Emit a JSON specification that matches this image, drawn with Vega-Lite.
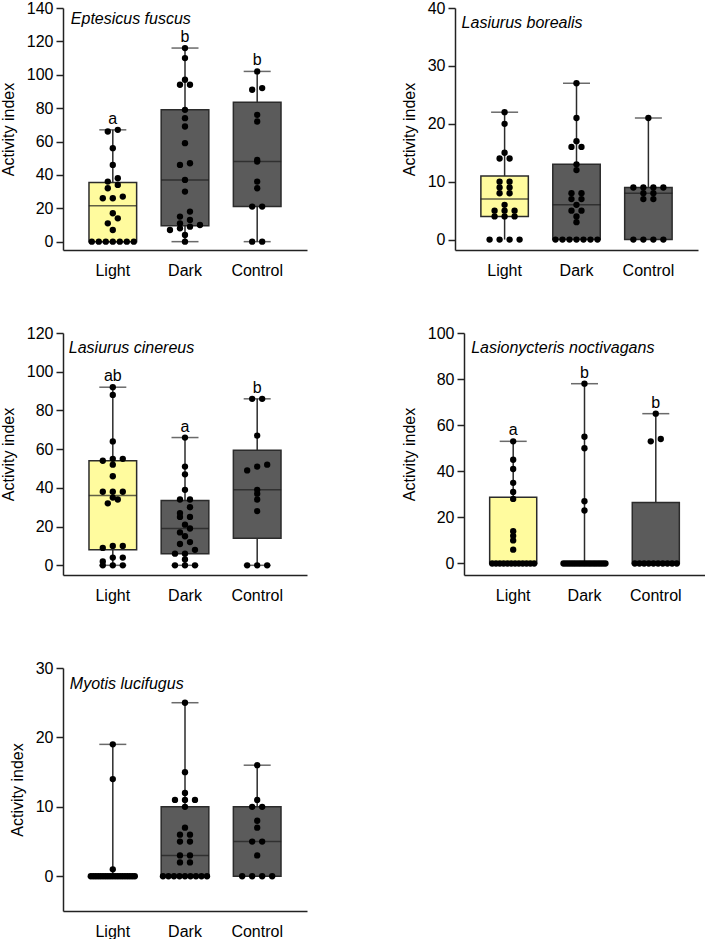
{
  "$schema": "https://vega.github.io/schema/vega-lite/v6.json",
  "padding": {"left": 0, "top": 0, "right": 0, "bottom": 0},
  "background": "white",
  "datasets": {
    "boxes": [
      {"sp": "Eptesicus fuscus", "grp": "Light", "q1": 0, "med": 21.5, "q3": 35.5, "min": 0, "max": 67, "letter": "a"},
      {"sp": "Eptesicus fuscus", "grp": "Dark", "q1": 9.5, "med": 37, "q3": 79, "min": 0, "max": 116, "letter": "b"},
      {"sp": "Eptesicus fuscus", "grp": "Control", "q1": 21, "med": 48, "q3": 83.5, "min": 0, "max": 102, "letter": "b"},
      {"sp": "Lasiurus borealis", "grp": "Light", "q1": 4, "med": 7, "q3": 11, "min": 0, "max": 22, "letter": ""},
      {"sp": "Lasiurus borealis", "grp": "Dark", "q1": 0, "med": 6, "q3": 13, "min": 0, "max": 27, "letter": ""},
      {"sp": "Lasiurus borealis", "grp": "Control", "q1": 0, "med": 8, "q3": 9, "min": 0, "max": 21, "letter": ""},
      {"sp": "Lasiurus cinereus", "grp": "Light", "q1": 8, "med": 36, "q3": 54, "min": 0, "max": 92, "letter": "ab"},
      {"sp": "Lasiurus cinereus", "grp": "Dark", "q1": 6, "med": 19, "q3": 33.5, "min": 0, "max": 66, "letter": "a"},
      {"sp": "Lasiurus cinereus", "grp": "Control", "q1": 14, "med": 39, "q3": 59.5, "min": 0, "max": 86, "letter": "b"},
      {"sp": "Lasionycteris noctivagans", "grp": "Light", "q1": 0, "med": 0, "q3": 28.7, "min": 0, "max": 53, "letter": "a"},
      {"sp": "Lasionycteris noctivagans", "grp": "Dark", "q1": 0, "med": 0, "q3": 0, "min": 0, "max": 78, "letter": "b"},
      {"sp": "Lasionycteris noctivagans", "grp": "Control", "q1": 0, "med": 0, "q3": 26.5, "min": 0, "max": 65, "letter": "b"},
      {"sp": "Myotis lucifugus", "grp": "Light", "q1": 0, "med": 0, "q3": 0, "min": 0, "max": 19, "letter": ""},
      {"sp": "Myotis lucifugus", "grp": "Dark", "q1": 0, "med": 3, "q3": 10, "min": 0, "max": 25, "letter": ""},
      {"sp": "Myotis lucifugus", "grp": "Control", "q1": 0, "med": 5, "q3": 10, "min": 0, "max": 16, "letter": ""}
    ],
    "points": [
      {"sp": "Eptesicus fuscus", "grp": "Light", "v": 67},
      {"sp": "Eptesicus fuscus", "grp": "Light", "v": 66},
      {"sp": "Eptesicus fuscus", "grp": "Light", "v": 56},
      {"sp": "Eptesicus fuscus", "grp": "Light", "v": 46},
      {"sp": "Eptesicus fuscus", "grp": "Light", "v": 38},
      {"sp": "Eptesicus fuscus", "grp": "Light", "v": 36},
      {"sp": "Eptesicus fuscus", "grp": "Light", "v": 34},
      {"sp": "Eptesicus fuscus", "grp": "Light", "v": 32},
      {"sp": "Eptesicus fuscus", "grp": "Light", "v": 27},
      {"sp": "Eptesicus fuscus", "grp": "Light", "v": 26},
      {"sp": "Eptesicus fuscus", "grp": "Light", "v": 26},
      {"sp": "Eptesicus fuscus", "grp": "Light", "v": 17},
      {"sp": "Eptesicus fuscus", "grp": "Light", "v": 14},
      {"sp": "Eptesicus fuscus", "grp": "Light", "v": 11},
      {"sp": "Eptesicus fuscus", "grp": "Light", "v": 7},
      {"sp": "Eptesicus fuscus", "grp": "Light", "v": 0},
      {"sp": "Eptesicus fuscus", "grp": "Light", "v": 0},
      {"sp": "Eptesicus fuscus", "grp": "Light", "v": 0},
      {"sp": "Eptesicus fuscus", "grp": "Light", "v": 0},
      {"sp": "Eptesicus fuscus", "grp": "Light", "v": 0},
      {"sp": "Eptesicus fuscus", "grp": "Light", "v": 0},
      {"sp": "Eptesicus fuscus", "grp": "Light", "v": 0},
      {"sp": "Eptesicus fuscus", "grp": "Dark", "v": 116},
      {"sp": "Eptesicus fuscus", "grp": "Dark", "v": 110},
      {"sp": "Eptesicus fuscus", "grp": "Dark", "v": 97},
      {"sp": "Eptesicus fuscus", "grp": "Dark", "v": 94},
      {"sp": "Eptesicus fuscus", "grp": "Dark", "v": 94},
      {"sp": "Eptesicus fuscus", "grp": "Dark", "v": 79},
      {"sp": "Eptesicus fuscus", "grp": "Dark", "v": 74},
      {"sp": "Eptesicus fuscus", "grp": "Dark", "v": 69},
      {"sp": "Eptesicus fuscus", "grp": "Dark", "v": 59},
      {"sp": "Eptesicus fuscus", "grp": "Dark", "v": 47},
      {"sp": "Eptesicus fuscus", "grp": "Dark", "v": 46},
      {"sp": "Eptesicus fuscus", "grp": "Dark", "v": 37},
      {"sp": "Eptesicus fuscus", "grp": "Dark", "v": 30},
      {"sp": "Eptesicus fuscus", "grp": "Dark", "v": 18},
      {"sp": "Eptesicus fuscus", "grp": "Dark", "v": 15},
      {"sp": "Eptesicus fuscus", "grp": "Dark", "v": 13},
      {"sp": "Eptesicus fuscus", "grp": "Dark", "v": 11},
      {"sp": "Eptesicus fuscus", "grp": "Dark", "v": 10},
      {"sp": "Eptesicus fuscus", "grp": "Dark", "v": 9},
      {"sp": "Eptesicus fuscus", "grp": "Dark", "v": 8},
      {"sp": "Eptesicus fuscus", "grp": "Dark", "v": 7},
      {"sp": "Eptesicus fuscus", "grp": "Dark", "v": 4},
      {"sp": "Eptesicus fuscus", "grp": "Dark", "v": 0},
      {"sp": "Eptesicus fuscus", "grp": "Control", "v": 102},
      {"sp": "Eptesicus fuscus", "grp": "Control", "v": 92},
      {"sp": "Eptesicus fuscus", "grp": "Control", "v": 91},
      {"sp": "Eptesicus fuscus", "grp": "Control", "v": 76},
      {"sp": "Eptesicus fuscus", "grp": "Control", "v": 72},
      {"sp": "Eptesicus fuscus", "grp": "Control", "v": 49},
      {"sp": "Eptesicus fuscus", "grp": "Control", "v": 48},
      {"sp": "Eptesicus fuscus", "grp": "Control", "v": 36},
      {"sp": "Eptesicus fuscus", "grp": "Control", "v": 32},
      {"sp": "Eptesicus fuscus", "grp": "Control", "v": 21},
      {"sp": "Eptesicus fuscus", "grp": "Control", "v": 21},
      {"sp": "Eptesicus fuscus", "grp": "Control", "v": 0},
      {"sp": "Eptesicus fuscus", "grp": "Control", "v": 0},
      {"sp": "Lasiurus borealis", "grp": "Light", "v": 22},
      {"sp": "Lasiurus borealis", "grp": "Light", "v": 20},
      {"sp": "Lasiurus borealis", "grp": "Light", "v": 15},
      {"sp": "Lasiurus borealis", "grp": "Light", "v": 14},
      {"sp": "Lasiurus borealis", "grp": "Light", "v": 14},
      {"sp": "Lasiurus borealis", "grp": "Light", "v": 10},
      {"sp": "Lasiurus borealis", "grp": "Light", "v": 10},
      {"sp": "Lasiurus borealis", "grp": "Light", "v": 9},
      {"sp": "Lasiurus borealis", "grp": "Light", "v": 9},
      {"sp": "Lasiurus borealis", "grp": "Light", "v": 8},
      {"sp": "Lasiurus borealis", "grp": "Light", "v": 8},
      {"sp": "Lasiurus borealis", "grp": "Light", "v": 6},
      {"sp": "Lasiurus borealis", "grp": "Light", "v": 5},
      {"sp": "Lasiurus borealis", "grp": "Light", "v": 5},
      {"sp": "Lasiurus borealis", "grp": "Light", "v": 5},
      {"sp": "Lasiurus borealis", "grp": "Light", "v": 4},
      {"sp": "Lasiurus borealis", "grp": "Light", "v": 4},
      {"sp": "Lasiurus borealis", "grp": "Light", "v": 4},
      {"sp": "Lasiurus borealis", "grp": "Light", "v": 0},
      {"sp": "Lasiurus borealis", "grp": "Light", "v": 0},
      {"sp": "Lasiurus borealis", "grp": "Light", "v": 0},
      {"sp": "Lasiurus borealis", "grp": "Light", "v": 0},
      {"sp": "Lasiurus borealis", "grp": "Dark", "v": 27},
      {"sp": "Lasiurus borealis", "grp": "Dark", "v": 21},
      {"sp": "Lasiurus borealis", "grp": "Dark", "v": 17},
      {"sp": "Lasiurus borealis", "grp": "Dark", "v": 16},
      {"sp": "Lasiurus borealis", "grp": "Dark", "v": 16},
      {"sp": "Lasiurus borealis", "grp": "Dark", "v": 13},
      {"sp": "Lasiurus borealis", "grp": "Dark", "v": 12},
      {"sp": "Lasiurus borealis", "grp": "Dark", "v": 8},
      {"sp": "Lasiurus borealis", "grp": "Dark", "v": 8},
      {"sp": "Lasiurus borealis", "grp": "Dark", "v": 7},
      {"sp": "Lasiurus borealis", "grp": "Dark", "v": 7},
      {"sp": "Lasiurus borealis", "grp": "Dark", "v": 6},
      {"sp": "Lasiurus borealis", "grp": "Dark", "v": 5},
      {"sp": "Lasiurus borealis", "grp": "Dark", "v": 5},
      {"sp": "Lasiurus borealis", "grp": "Dark", "v": 4},
      {"sp": "Lasiurus borealis", "grp": "Dark", "v": 3},
      {"sp": "Lasiurus borealis", "grp": "Dark", "v": 0},
      {"sp": "Lasiurus borealis", "grp": "Dark", "v": 0},
      {"sp": "Lasiurus borealis", "grp": "Dark", "v": 0},
      {"sp": "Lasiurus borealis", "grp": "Dark", "v": 0},
      {"sp": "Lasiurus borealis", "grp": "Dark", "v": 0},
      {"sp": "Lasiurus borealis", "grp": "Dark", "v": 0},
      {"sp": "Lasiurus borealis", "grp": "Dark", "v": 0},
      {"sp": "Lasiurus borealis", "grp": "Control", "v": 21},
      {"sp": "Lasiurus borealis", "grp": "Control", "v": 9},
      {"sp": "Lasiurus borealis", "grp": "Control", "v": 9},
      {"sp": "Lasiurus borealis", "grp": "Control", "v": 9},
      {"sp": "Lasiurus borealis", "grp": "Control", "v": 9},
      {"sp": "Lasiurus borealis", "grp": "Control", "v": 8},
      {"sp": "Lasiurus borealis", "grp": "Control", "v": 8},
      {"sp": "Lasiurus borealis", "grp": "Control", "v": 7},
      {"sp": "Lasiurus borealis", "grp": "Control", "v": 7},
      {"sp": "Lasiurus borealis", "grp": "Control", "v": 0},
      {"sp": "Lasiurus borealis", "grp": "Control", "v": 0},
      {"sp": "Lasiurus borealis", "grp": "Control", "v": 0},
      {"sp": "Lasiurus borealis", "grp": "Control", "v": 0},
      {"sp": "Lasiurus cinereus", "grp": "Light", "v": 92},
      {"sp": "Lasiurus cinereus", "grp": "Light", "v": 88},
      {"sp": "Lasiurus cinereus", "grp": "Light", "v": 64},
      {"sp": "Lasiurus cinereus", "grp": "Light", "v": 55},
      {"sp": "Lasiurus cinereus", "grp": "Light", "v": 55},
      {"sp": "Lasiurus cinereus", "grp": "Light", "v": 54},
      {"sp": "Lasiurus cinereus", "grp": "Light", "v": 52},
      {"sp": "Lasiurus cinereus", "grp": "Light", "v": 46},
      {"sp": "Lasiurus cinereus", "grp": "Light", "v": 38},
      {"sp": "Lasiurus cinereus", "grp": "Light", "v": 38},
      {"sp": "Lasiurus cinereus", "grp": "Light", "v": 38},
      {"sp": "Lasiurus cinereus", "grp": "Light", "v": 35},
      {"sp": "Lasiurus cinereus", "grp": "Light", "v": 34},
      {"sp": "Lasiurus cinereus", "grp": "Light", "v": 32},
      {"sp": "Lasiurus cinereus", "grp": "Light", "v": 10},
      {"sp": "Lasiurus cinereus", "grp": "Light", "v": 10},
      {"sp": "Lasiurus cinereus", "grp": "Light", "v": 9},
      {"sp": "Lasiurus cinereus", "grp": "Light", "v": 4},
      {"sp": "Lasiurus cinereus", "grp": "Light", "v": 4},
      {"sp": "Lasiurus cinereus", "grp": "Light", "v": 2},
      {"sp": "Lasiurus cinereus", "grp": "Light", "v": 0},
      {"sp": "Lasiurus cinereus", "grp": "Light", "v": 0},
      {"sp": "Lasiurus cinereus", "grp": "Light", "v": 0},
      {"sp": "Lasiurus cinereus", "grp": "Dark", "v": 66},
      {"sp": "Lasiurus cinereus", "grp": "Dark", "v": 51},
      {"sp": "Lasiurus cinereus", "grp": "Dark", "v": 47},
      {"sp": "Lasiurus cinereus", "grp": "Dark", "v": 39},
      {"sp": "Lasiurus cinereus", "grp": "Dark", "v": 34},
      {"sp": "Lasiurus cinereus", "grp": "Dark", "v": 34},
      {"sp": "Lasiurus cinereus", "grp": "Dark", "v": 30},
      {"sp": "Lasiurus cinereus", "grp": "Dark", "v": 27},
      {"sp": "Lasiurus cinereus", "grp": "Dark", "v": 25},
      {"sp": "Lasiurus cinereus", "grp": "Dark", "v": 25},
      {"sp": "Lasiurus cinereus", "grp": "Dark", "v": 21},
      {"sp": "Lasiurus cinereus", "grp": "Dark", "v": 19},
      {"sp": "Lasiurus cinereus", "grp": "Dark", "v": 17},
      {"sp": "Lasiurus cinereus", "grp": "Dark", "v": 15},
      {"sp": "Lasiurus cinereus", "grp": "Dark", "v": 12},
      {"sp": "Lasiurus cinereus", "grp": "Dark", "v": 11},
      {"sp": "Lasiurus cinereus", "grp": "Dark", "v": 8},
      {"sp": "Lasiurus cinereus", "grp": "Dark", "v": 6},
      {"sp": "Lasiurus cinereus", "grp": "Dark", "v": 6},
      {"sp": "Lasiurus cinereus", "grp": "Dark", "v": 3},
      {"sp": "Lasiurus cinereus", "grp": "Dark", "v": 0},
      {"sp": "Lasiurus cinereus", "grp": "Dark", "v": 0},
      {"sp": "Lasiurus cinereus", "grp": "Dark", "v": 0},
      {"sp": "Lasiurus cinereus", "grp": "Control", "v": 86},
      {"sp": "Lasiurus cinereus", "grp": "Control", "v": 86},
      {"sp": "Lasiurus cinereus", "grp": "Control", "v": 67},
      {"sp": "Lasiurus cinereus", "grp": "Control", "v": 52},
      {"sp": "Lasiurus cinereus", "grp": "Control", "v": 51},
      {"sp": "Lasiurus cinereus", "grp": "Control", "v": 49},
      {"sp": "Lasiurus cinereus", "grp": "Control", "v": 39},
      {"sp": "Lasiurus cinereus", "grp": "Control", "v": 37},
      {"sp": "Lasiurus cinereus", "grp": "Control", "v": 34},
      {"sp": "Lasiurus cinereus", "grp": "Control", "v": 28},
      {"sp": "Lasiurus cinereus", "grp": "Control", "v": 0},
      {"sp": "Lasiurus cinereus", "grp": "Control", "v": 0},
      {"sp": "Lasiurus cinereus", "grp": "Control", "v": 0},
      {"sp": "Lasionycteris noctivagans", "grp": "Light", "v": 53},
      {"sp": "Lasionycteris noctivagans", "grp": "Light", "v": 45},
      {"sp": "Lasionycteris noctivagans", "grp": "Light", "v": 41},
      {"sp": "Lasionycteris noctivagans", "grp": "Light", "v": 35},
      {"sp": "Lasionycteris noctivagans", "grp": "Light", "v": 31},
      {"sp": "Lasionycteris noctivagans", "grp": "Light", "v": 28},
      {"sp": "Lasionycteris noctivagans", "grp": "Light", "v": 14},
      {"sp": "Lasionycteris noctivagans", "grp": "Light", "v": 12},
      {"sp": "Lasionycteris noctivagans", "grp": "Light", "v": 10},
      {"sp": "Lasionycteris noctivagans", "grp": "Light", "v": 6},
      {"sp": "Lasionycteris noctivagans", "grp": "Light", "v": 0},
      {"sp": "Lasionycteris noctivagans", "grp": "Light", "v": 0},
      {"sp": "Lasionycteris noctivagans", "grp": "Light", "v": 0},
      {"sp": "Lasionycteris noctivagans", "grp": "Light", "v": 0},
      {"sp": "Lasionycteris noctivagans", "grp": "Light", "v": 0},
      {"sp": "Lasionycteris noctivagans", "grp": "Light", "v": 0},
      {"sp": "Lasionycteris noctivagans", "grp": "Light", "v": 0},
      {"sp": "Lasionycteris noctivagans", "grp": "Light", "v": 0},
      {"sp": "Lasionycteris noctivagans", "grp": "Light", "v": 0},
      {"sp": "Lasionycteris noctivagans", "grp": "Light", "v": 0},
      {"sp": "Lasionycteris noctivagans", "grp": "Light", "v": 0},
      {"sp": "Lasionycteris noctivagans", "grp": "Light", "v": 0},
      {"sp": "Lasionycteris noctivagans", "grp": "Dark", "v": 78},
      {"sp": "Lasionycteris noctivagans", "grp": "Dark", "v": 55},
      {"sp": "Lasionycteris noctivagans", "grp": "Dark", "v": 50},
      {"sp": "Lasionycteris noctivagans", "grp": "Dark", "v": 27},
      {"sp": "Lasionycteris noctivagans", "grp": "Dark", "v": 23},
      {"sp": "Lasionycteris noctivagans", "grp": "Dark", "v": 0},
      {"sp": "Lasionycteris noctivagans", "grp": "Dark", "v": 0},
      {"sp": "Lasionycteris noctivagans", "grp": "Dark", "v": 0},
      {"sp": "Lasionycteris noctivagans", "grp": "Dark", "v": 0},
      {"sp": "Lasionycteris noctivagans", "grp": "Dark", "v": 0},
      {"sp": "Lasionycteris noctivagans", "grp": "Dark", "v": 0},
      {"sp": "Lasionycteris noctivagans", "grp": "Dark", "v": 0},
      {"sp": "Lasionycteris noctivagans", "grp": "Dark", "v": 0},
      {"sp": "Lasionycteris noctivagans", "grp": "Dark", "v": 0},
      {"sp": "Lasionycteris noctivagans", "grp": "Dark", "v": 0},
      {"sp": "Lasionycteris noctivagans", "grp": "Dark", "v": 0},
      {"sp": "Lasionycteris noctivagans", "grp": "Dark", "v": 0},
      {"sp": "Lasionycteris noctivagans", "grp": "Dark", "v": 0},
      {"sp": "Lasionycteris noctivagans", "grp": "Dark", "v": 0},
      {"sp": "Lasionycteris noctivagans", "grp": "Dark", "v": 0},
      {"sp": "Lasionycteris noctivagans", "grp": "Dark", "v": 0},
      {"sp": "Lasionycteris noctivagans", "grp": "Dark", "v": 0},
      {"sp": "Lasionycteris noctivagans", "grp": "Dark", "v": 0},
      {"sp": "Lasionycteris noctivagans", "grp": "Control", "v": 65},
      {"sp": "Lasionycteris noctivagans", "grp": "Control", "v": 54},
      {"sp": "Lasionycteris noctivagans", "grp": "Control", "v": 53},
      {"sp": "Lasionycteris noctivagans", "grp": "Control", "v": 0},
      {"sp": "Lasionycteris noctivagans", "grp": "Control", "v": 0},
      {"sp": "Lasionycteris noctivagans", "grp": "Control", "v": 0},
      {"sp": "Lasionycteris noctivagans", "grp": "Control", "v": 0},
      {"sp": "Lasionycteris noctivagans", "grp": "Control", "v": 0},
      {"sp": "Lasionycteris noctivagans", "grp": "Control", "v": 0},
      {"sp": "Lasionycteris noctivagans", "grp": "Control", "v": 0},
      {"sp": "Lasionycteris noctivagans", "grp": "Control", "v": 0},
      {"sp": "Lasionycteris noctivagans", "grp": "Control", "v": 0},
      {"sp": "Lasionycteris noctivagans", "grp": "Control", "v": 0},
      {"sp": "Myotis lucifugus", "grp": "Light", "v": 19},
      {"sp": "Myotis lucifugus", "grp": "Light", "v": 14},
      {"sp": "Myotis lucifugus", "grp": "Light", "v": 1},
      {"sp": "Myotis lucifugus", "grp": "Light", "v": 0},
      {"sp": "Myotis lucifugus", "grp": "Light", "v": 0},
      {"sp": "Myotis lucifugus", "grp": "Light", "v": 0},
      {"sp": "Myotis lucifugus", "grp": "Light", "v": 0},
      {"sp": "Myotis lucifugus", "grp": "Light", "v": 0},
      {"sp": "Myotis lucifugus", "grp": "Light", "v": 0},
      {"sp": "Myotis lucifugus", "grp": "Light", "v": 0},
      {"sp": "Myotis lucifugus", "grp": "Light", "v": 0},
      {"sp": "Myotis lucifugus", "grp": "Light", "v": 0},
      {"sp": "Myotis lucifugus", "grp": "Light", "v": 0},
      {"sp": "Myotis lucifugus", "grp": "Light", "v": 0},
      {"sp": "Myotis lucifugus", "grp": "Light", "v": 0},
      {"sp": "Myotis lucifugus", "grp": "Light", "v": 0},
      {"sp": "Myotis lucifugus", "grp": "Light", "v": 0},
      {"sp": "Myotis lucifugus", "grp": "Light", "v": 0},
      {"sp": "Myotis lucifugus", "grp": "Light", "v": 0},
      {"sp": "Myotis lucifugus", "grp": "Light", "v": 0},
      {"sp": "Myotis lucifugus", "grp": "Light", "v": 0},
      {"sp": "Myotis lucifugus", "grp": "Light", "v": 0},
      {"sp": "Myotis lucifugus", "grp": "Dark", "v": 25},
      {"sp": "Myotis lucifugus", "grp": "Dark", "v": 15},
      {"sp": "Myotis lucifugus", "grp": "Dark", "v": 12},
      {"sp": "Myotis lucifugus", "grp": "Dark", "v": 11},
      {"sp": "Myotis lucifugus", "grp": "Dark", "v": 11},
      {"sp": "Myotis lucifugus", "grp": "Dark", "v": 11},
      {"sp": "Myotis lucifugus", "grp": "Dark", "v": 10},
      {"sp": "Myotis lucifugus", "grp": "Dark", "v": 7},
      {"sp": "Myotis lucifugus", "grp": "Dark", "v": 6},
      {"sp": "Myotis lucifugus", "grp": "Dark", "v": 6},
      {"sp": "Myotis lucifugus", "grp": "Dark", "v": 5},
      {"sp": "Myotis lucifugus", "grp": "Dark", "v": 5},
      {"sp": "Myotis lucifugus", "grp": "Dark", "v": 3},
      {"sp": "Myotis lucifugus", "grp": "Dark", "v": 3},
      {"sp": "Myotis lucifugus", "grp": "Dark", "v": 2},
      {"sp": "Myotis lucifugus", "grp": "Dark", "v": 2},
      {"sp": "Myotis lucifugus", "grp": "Dark", "v": 0},
      {"sp": "Myotis lucifugus", "grp": "Dark", "v": 0},
      {"sp": "Myotis lucifugus", "grp": "Dark", "v": 0},
      {"sp": "Myotis lucifugus", "grp": "Dark", "v": 0},
      {"sp": "Myotis lucifugus", "grp": "Dark", "v": 0},
      {"sp": "Myotis lucifugus", "grp": "Dark", "v": 0},
      {"sp": "Myotis lucifugus", "grp": "Dark", "v": 0},
      {"sp": "Myotis lucifugus", "grp": "Dark", "v": 0},
      {"sp": "Myotis lucifugus", "grp": "Dark", "v": 0},
      {"sp": "Myotis lucifugus", "grp": "Control", "v": 16},
      {"sp": "Myotis lucifugus", "grp": "Control", "v": 11},
      {"sp": "Myotis lucifugus", "grp": "Control", "v": 10},
      {"sp": "Myotis lucifugus", "grp": "Control", "v": 10},
      {"sp": "Myotis lucifugus", "grp": "Control", "v": 8},
      {"sp": "Myotis lucifugus", "grp": "Control", "v": 7},
      {"sp": "Myotis lucifugus", "grp": "Control", "v": 5},
      {"sp": "Myotis lucifugus", "grp": "Control", "v": 5},
      {"sp": "Myotis lucifugus", "grp": "Control", "v": 3},
      {"sp": "Myotis lucifugus", "grp": "Control", "v": 0},
      {"sp": "Myotis lucifugus", "grp": "Control", "v": 0},
      {"sp": "Myotis lucifugus", "grp": "Control", "v": 0},
      {"sp": "Myotis lucifugus", "grp": "Control", "v": 0}
    ]
  },
  "spacing": 57,
  "vconcat": [
    {
      "spacing": 47,
      "vconcat": [
        {
          "spacing": 94,
          "hconcat": [
            {
              "width": 244, "height": 242,
              "layer": [
                {"data": {"name": "boxes"}, "transform": [{"filter": "datum.sp === 'Eptesicus fuscus'"}],
                 "mark": {"type": "rule", "color": "#2b2b2b", "strokeWidth": 1.5},
                 "encoding": {"x": {"field": "grp", "type": "nominal", "scale": {"domain": ["Light", "Dark", "Control"], "paddingInner": 0.34, "paddingOuter": 0.36}, "axis": {"title": null}},
                   "y": {"field": "min", "type": "quantitative", "scale": {"domain": [-5, 140], "nice": false, "zero": false}, "axis": {"values": [0, 20, 40, 60, 80, 100, 120, 140], "title": "Activity index"}},
                   "y2": {"field": "max"}}},
                {"data": {"name": "boxes"}, "transform": [{"filter": "datum.sp === 'Eptesicus fuscus'"}],
                 "mark": {"type": "tick", "orient": "horizontal", "size": 27, "thickness": 1.5, "color": "#2b2b2b"},
                 "encoding": {"x": {"field": "grp", "type": "nominal", "scale": {"domain": ["Light", "Dark", "Control"], "paddingInner": 0.34, "paddingOuter": 0.36}, "axis": {"title": null}},
                   "y": {"field": "max", "type": "quantitative", "scale": {"domain": [-5, 140], "nice": false, "zero": false}, "axis": {"values": [0, 20, 40, 60, 80, 100, 120, 140], "title": "Activity index"}}}},
                {"data": {"name": "boxes"}, "transform": [{"filter": "datum.sp === 'Eptesicus fuscus'"}],
                 "mark": {"type": "tick", "orient": "horizontal", "size": 27, "thickness": 1.5, "color": "#2b2b2b"},
                 "encoding": {"x": {"field": "grp", "type": "nominal", "scale": {"domain": ["Light", "Dark", "Control"], "paddingInner": 0.34, "paddingOuter": 0.36}, "axis": {"title": null}},
                   "y": {"field": "min", "type": "quantitative", "scale": {"domain": [-5, 140], "nice": false, "zero": false}, "axis": {"values": [0, 20, 40, 60, 80, 100, 120, 140], "title": "Activity index"}}}},
                {"data": {"name": "boxes"}, "transform": [{"filter": "datum.sp === 'Eptesicus fuscus'"}],
                 "mark": {"type": "bar", "stroke": "#2b2b2b", "strokeWidth": 1.5},
                 "encoding": {"x": {"field": "grp", "type": "nominal", "scale": {"domain": ["Light", "Dark", "Control"], "paddingInner": 0.34, "paddingOuter": 0.36}, "axis": {"title": null}},
                   "y": {"field": "q1", "type": "quantitative", "scale": {"domain": [-5, 140], "nice": false, "zero": false}, "axis": {"values": [0, 20, 40, 60, 80, 100, 120, 140], "title": "Activity index"}},
                   "y2": {"field": "q3"},
                   "fill": {"field": "grp", "type": "nominal", "scale": {"domain": ["Light", "Dark", "Control"], "range": ["#FFFB9E", "#5B5B5B", "#5B5B5B"]}, "legend": null}}},
                {"data": {"name": "boxes"}, "transform": [{"filter": "datum.sp === 'Eptesicus fuscus'"}],
                 "mark": {"type": "tick", "orient": "horizontal", "size": 48, "thickness": 1.5, "color": "#1e1e1e"},
                 "encoding": {"x": {"field": "grp", "type": "nominal", "scale": {"domain": ["Light", "Dark", "Control"], "paddingInner": 0.34, "paddingOuter": 0.36}, "axis": {"title": null}},
                   "y": {"field": "med", "type": "quantitative", "scale": {"domain": [-5, 140], "nice": false, "zero": false}, "axis": {"values": [0, 20, 40, 60, 80, 100, 120, 140], "title": "Activity index"}}}},
                {"data": {"name": "points"},
                 "transform": [{"filter": "datum.sp === 'Eptesicus fuscus'"}, {"calculate": "round(datum.v / 4.2)", "as": "bin"},
                   {"window": [{"op": "row_number", "as": "rk"}, {"op": "count", "as": "cnt"}], "groupby": ["grp", "bin"], "sort": [{"field": "v"}], "frame": [null, null]},
                   {"calculate": "23.8 + (datum.rk - (datum.cnt + 1) / 2) * min(10, 42 / max(datum.cnt - 1, 1))", "as": "off"}],
                 "mark": {"type": "circle", "size": 40, "opacity": 1, "color": "#000000"},
                 "encoding": {"x": {"field": "grp", "type": "nominal", "scale": {"domain": ["Light", "Dark", "Control"], "paddingInner": 0.34, "paddingOuter": 0.36}, "axis": {"title": null}},
                   "xOffset": {"field": "off", "type": "quantitative", "scale": null},
                   "y": {"field": "v", "type": "quantitative", "scale": {"domain": [-5, 140], "nice": false, "zero": false}, "axis": {"values": [0, 20, 40, 60, 80, 100, 120, 140], "title": "Activity index"}}}},
                {"data": {"name": "boxes"}, "transform": [{"filter": "datum.sp === 'Eptesicus fuscus'"}],
                 "mark": {"type": "text", "baseline": "alphabetic", "dy": -6, "fontSize": 16, "font": "Liberation Sans", "color": "#000000"},
                 "encoding": {"x": {"field": "grp", "type": "nominal", "scale": {"domain": ["Light", "Dark", "Control"], "paddingInner": 0.34, "paddingOuter": 0.36}, "axis": {"title": null}},
                   "y": {"field": "max", "type": "quantitative", "scale": {"domain": [-5, 140], "nice": false, "zero": false}, "axis": {"values": [0, 20, 40, 60, 80, 100, 120, 140], "title": "Activity index"}},
                   "text": {"field": "letter"}}},
                {"data": {"name": "boxes"}, "transform": [{"filter": "datum.sp === 'Eptesicus fuscus' && datum.grp === 'Light'"}],
                 "mark": {"type": "text", "align": "left", "baseline": "middle", "dx": -42, "dy": 11, "fontSize": 16, "fontStyle": "italic", "font": "Liberation Sans", "color": "#000000"},
                 "encoding": {"x": {"field": "grp", "type": "nominal", "scale": {"domain": ["Light", "Dark", "Control"], "paddingInner": 0.34, "paddingOuter": 0.36}, "axis": {"title": null}},
                   "y": {"datum": 140, "type": "quantitative", "scale": {"domain": [-5, 140], "nice": false, "zero": false}, "axis": {"values": [0, 20, 40, 60, 80, 100, 120, 140], "title": "Activity index"}},
                   "text": {"field": "sp"}}}
              ]
            },
            {
              "width": 243, "height": 242,
              "layer": [
                {"data": {"name": "boxes"}, "transform": [{"filter": "datum.sp === 'Lasiurus borealis'"}],
                 "mark": {"type": "rule", "color": "#2b2b2b", "strokeWidth": 1.5},
                 "encoding": {"x": {"field": "grp", "type": "nominal", "scale": {"domain": ["Light", "Dark", "Control"], "paddingInner": 0.34, "paddingOuter": 0.36}, "axis": {"title": null}},
                   "y": {"field": "min", "type": "quantitative", "scale": {"domain": [-1.8, 40], "nice": false, "zero": false}, "axis": {"values": [0, 10, 20, 30, 40], "title": "Activity index"}},
                   "y2": {"field": "max"}}},
                {"data": {"name": "boxes"}, "transform": [{"filter": "datum.sp === 'Lasiurus borealis'"}],
                 "mark": {"type": "tick", "orient": "horizontal", "size": 27, "thickness": 1.5, "color": "#2b2b2b"},
                 "encoding": {"x": {"field": "grp", "type": "nominal", "scale": {"domain": ["Light", "Dark", "Control"], "paddingInner": 0.34, "paddingOuter": 0.36}, "axis": {"title": null}},
                   "y": {"field": "max", "type": "quantitative", "scale": {"domain": [-1.8, 40], "nice": false, "zero": false}, "axis": {"values": [0, 10, 20, 30, 40], "title": "Activity index"}}}},
                {"data": {"name": "boxes"}, "transform": [{"filter": "datum.sp === 'Lasiurus borealis'"}],
                 "mark": {"type": "bar", "stroke": "#2b2b2b", "strokeWidth": 1.5},
                 "encoding": {"x": {"field": "grp", "type": "nominal", "scale": {"domain": ["Light", "Dark", "Control"], "paddingInner": 0.34, "paddingOuter": 0.36}, "axis": {"title": null}},
                   "y": {"field": "q1", "type": "quantitative", "scale": {"domain": [-1.8, 40], "nice": false, "zero": false}, "axis": {"values": [0, 10, 20, 30, 40], "title": "Activity index"}},
                   "y2": {"field": "q3"},
                   "fill": {"field": "grp", "type": "nominal", "scale": {"domain": ["Light", "Dark", "Control"], "range": ["#FFFB9E", "#5B5B5B", "#5B5B5B"]}, "legend": null}}},
                {"data": {"name": "boxes"}, "transform": [{"filter": "datum.sp === 'Lasiurus borealis'"}],
                 "mark": {"type": "tick", "orient": "horizontal", "size": 48, "thickness": 1.5, "color": "#1e1e1e"},
                 "encoding": {"x": {"field": "grp", "type": "nominal", "scale": {"domain": ["Light", "Dark", "Control"], "paddingInner": 0.34, "paddingOuter": 0.36}, "axis": {"title": null}},
                   "y": {"field": "med", "type": "quantitative", "scale": {"domain": [-1.8, 40], "nice": false, "zero": false}, "axis": {"values": [0, 10, 20, 30, 40], "title": "Activity index"}}}},
                {"data": {"name": "points"},
                 "transform": [{"filter": "datum.sp === 'Lasiurus borealis'"}, {"calculate": "round(datum.v)", "as": "bin"},
                   {"window": [{"op": "row_number", "as": "rk"}, {"op": "count", "as": "cnt"}], "groupby": ["grp", "bin"], "sort": [{"field": "v"}], "frame": [null, null]},
                   {"calculate": "23.7 + (datum.rk - (datum.cnt + 1) / 2) * min(10, 42 / max(datum.cnt - 1, 1))", "as": "off"}],
                 "mark": {"type": "circle", "size": 40, "opacity": 1, "color": "#000000"},
                 "encoding": {"x": {"field": "grp", "type": "nominal", "scale": {"domain": ["Light", "Dark", "Control"], "paddingInner": 0.34, "paddingOuter": 0.36}, "axis": {"title": null}},
                   "xOffset": {"field": "off", "type": "quantitative", "scale": null},
                   "y": {"field": "v", "type": "quantitative", "scale": {"domain": [-1.8, 40], "nice": false, "zero": false}, "axis": {"values": [0, 10, 20, 30, 40], "title": "Activity index"}}}},
                {"data": {"name": "boxes"}, "transform": [{"filter": "datum.sp === 'Lasiurus borealis' && datum.grp === 'Light'"}],
                 "mark": {"type": "text", "align": "left", "baseline": "middle", "dx": -43, "dy": 15, "fontSize": 16, "fontStyle": "italic", "font": "Liberation Sans", "color": "#000000"},
                 "encoding": {"x": {"field": "grp", "type": "nominal", "scale": {"domain": ["Light", "Dark", "Control"], "paddingInner": 0.34, "paddingOuter": 0.36}, "axis": {"title": null}},
                   "y": {"datum": 40, "type": "quantitative", "scale": {"domain": [-1.8, 40], "nice": false, "zero": false}, "axis": {"values": [0, 10, 20, 30, 40], "title": "Activity index"}},
                   "text": {"field": "sp"}}}
              ]
            }
          ]
        },
        {
          "spacing": 94,
          "hconcat": [
            {
              "width": 244, "height": 242,
              "layer": [
                {"data": {"name": "boxes"}, "transform": [{"filter": "datum.sp === 'Lasiurus cinereus'"}],
                 "mark": {"type": "rule", "color": "#2b2b2b", "strokeWidth": 1.5},
                 "encoding": {"x": {"field": "grp", "type": "nominal", "scale": {"domain": ["Light", "Dark", "Control"], "paddingInner": 0.34, "paddingOuter": 0.36}, "axis": {"title": null}},
                   "y": {"field": "min", "type": "quantitative", "scale": {"domain": [-5, 120], "nice": false, "zero": false}, "axis": {"values": [0, 20, 40, 60, 80, 100, 120], "title": "Activity index"}},
                   "y2": {"field": "max"}}},
                {"data": {"name": "boxes"}, "transform": [{"filter": "datum.sp === 'Lasiurus cinereus'"}],
                 "mark": {"type": "tick", "orient": "horizontal", "size": 27, "thickness": 1.5, "color": "#2b2b2b"},
                 "encoding": {"x": {"field": "grp", "type": "nominal", "scale": {"domain": ["Light", "Dark", "Control"], "paddingInner": 0.34, "paddingOuter": 0.36}, "axis": {"title": null}},
                   "y": {"field": "max", "type": "quantitative", "scale": {"domain": [-5, 120], "nice": false, "zero": false}, "axis": {"values": [0, 20, 40, 60, 80, 100, 120], "title": "Activity index"}}}},
                {"data": {"name": "boxes"}, "transform": [{"filter": "datum.sp === 'Lasiurus cinereus'"}],
                 "mark": {"type": "tick", "orient": "horizontal", "size": 27, "thickness": 1.5, "color": "#2b2b2b"},
                 "encoding": {"x": {"field": "grp", "type": "nominal", "scale": {"domain": ["Light", "Dark", "Control"], "paddingInner": 0.34, "paddingOuter": 0.36}, "axis": {"title": null}},
                   "y": {"field": "min", "type": "quantitative", "scale": {"domain": [-5, 120], "nice": false, "zero": false}, "axis": {"values": [0, 20, 40, 60, 80, 100, 120], "title": "Activity index"}}}},
                {"data": {"name": "boxes"}, "transform": [{"filter": "datum.sp === 'Lasiurus cinereus'"}],
                 "mark": {"type": "bar", "stroke": "#2b2b2b", "strokeWidth": 1.5},
                 "encoding": {"x": {"field": "grp", "type": "nominal", "scale": {"domain": ["Light", "Dark", "Control"], "paddingInner": 0.34, "paddingOuter": 0.36}, "axis": {"title": null}},
                   "y": {"field": "q1", "type": "quantitative", "scale": {"domain": [-5, 120], "nice": false, "zero": false}, "axis": {"values": [0, 20, 40, 60, 80, 100, 120], "title": "Activity index"}},
                   "y2": {"field": "q3"},
                   "fill": {"field": "grp", "type": "nominal", "scale": {"domain": ["Light", "Dark", "Control"], "range": ["#FFFB9E", "#5B5B5B", "#5B5B5B"]}, "legend": null}}},
                {"data": {"name": "boxes"}, "transform": [{"filter": "datum.sp === 'Lasiurus cinereus'"}],
                 "mark": {"type": "tick", "orient": "horizontal", "size": 48, "thickness": 1.5, "color": "#1e1e1e"},
                 "encoding": {"x": {"field": "grp", "type": "nominal", "scale": {"domain": ["Light", "Dark", "Control"], "paddingInner": 0.34, "paddingOuter": 0.36}, "axis": {"title": null}},
                   "y": {"field": "med", "type": "quantitative", "scale": {"domain": [-5, 120], "nice": false, "zero": false}, "axis": {"values": [0, 20, 40, 60, 80, 100, 120], "title": "Activity index"}}}},
                {"data": {"name": "points"},
                 "transform": [{"filter": "datum.sp === 'Lasiurus cinereus'"}, {"calculate": "round(datum.v / 3.6)", "as": "bin"},
                   {"window": [{"op": "row_number", "as": "rk"}, {"op": "count", "as": "cnt"}], "groupby": ["grp", "bin"], "sort": [{"field": "v"}], "frame": [null, null]},
                   {"calculate": "23.8 + (datum.rk - (datum.cnt + 1) / 2) * min(10, 42 / max(datum.cnt - 1, 1))", "as": "off"}],
                 "mark": {"type": "circle", "size": 40, "opacity": 1, "color": "#000000"},
                 "encoding": {"x": {"field": "grp", "type": "nominal", "scale": {"domain": ["Light", "Dark", "Control"], "paddingInner": 0.34, "paddingOuter": 0.36}, "axis": {"title": null}},
                   "xOffset": {"field": "off", "type": "quantitative", "scale": null},
                   "y": {"field": "v", "type": "quantitative", "scale": {"domain": [-5, 120], "nice": false, "zero": false}, "axis": {"values": [0, 20, 40, 60, 80, 100, 120], "title": "Activity index"}}}},
                {"data": {"name": "boxes"}, "transform": [{"filter": "datum.sp === 'Lasiurus cinereus'"}],
                 "mark": {"type": "text", "baseline": "alphabetic", "dy": -6, "fontSize": 16, "font": "Liberation Sans", "color": "#000000"},
                 "encoding": {"x": {"field": "grp", "type": "nominal", "scale": {"domain": ["Light", "Dark", "Control"], "paddingInner": 0.34, "paddingOuter": 0.36}, "axis": {"title": null}},
                   "y": {"field": "max", "type": "quantitative", "scale": {"domain": [-5, 120], "nice": false, "zero": false}, "axis": {"values": [0, 20, 40, 60, 80, 100, 120], "title": "Activity index"}},
                   "text": {"field": "letter"}}},
                {"data": {"name": "boxes"}, "transform": [{"filter": "datum.sp === 'Lasiurus cinereus' && datum.grp === 'Light'"}],
                 "mark": {"type": "text", "align": "left", "baseline": "middle", "dx": -44, "dy": 15, "fontSize": 16, "fontStyle": "italic", "font": "Liberation Sans", "color": "#000000"},
                 "encoding": {"x": {"field": "grp", "type": "nominal", "scale": {"domain": ["Light", "Dark", "Control"], "paddingInner": 0.34, "paddingOuter": 0.36}, "axis": {"title": null}},
                   "y": {"datum": 120, "type": "quantitative", "scale": {"domain": [-5, 120], "nice": false, "zero": false}, "axis": {"values": [0, 20, 40, 60, 80, 100, 120], "title": "Activity index"}},
                   "text": {"field": "sp"}}}
              ]
            },
            {
              "width": 241, "height": 242,
              "layer": [
                {"data": {"name": "boxes"}, "transform": [{"filter": "datum.sp === 'Lasionycteris noctivagans'"}],
                 "mark": {"type": "rule", "color": "#2b2b2b", "strokeWidth": 1.5},
                 "encoding": {"x": {"field": "grp", "type": "nominal", "scale": {"domain": ["Light", "Dark", "Control"], "paddingInner": 0.34, "paddingOuter": 0.36}, "axis": {"title": null}},
                   "y": {"field": "min", "type": "quantitative", "scale": {"domain": [-5, 100], "nice": false, "zero": false}, "axis": {"values": [0, 20, 40, 60, 80, 100], "title": "Activity index"}},
                   "y2": {"field": "max"}}},
                {"data": {"name": "boxes"}, "transform": [{"filter": "datum.sp === 'Lasionycteris noctivagans'"}],
                 "mark": {"type": "tick", "orient": "horizontal", "size": 27, "thickness": 1.5, "color": "#2b2b2b"},
                 "encoding": {"x": {"field": "grp", "type": "nominal", "scale": {"domain": ["Light", "Dark", "Control"], "paddingInner": 0.34, "paddingOuter": 0.36}, "axis": {"title": null}},
                   "y": {"field": "max", "type": "quantitative", "scale": {"domain": [-5, 100], "nice": false, "zero": false}, "axis": {"values": [0, 20, 40, 60, 80, 100], "title": "Activity index"}}}},
                {"data": {"name": "boxes"}, "transform": [{"filter": "datum.sp === 'Lasionycteris noctivagans' && datum.q3 > datum.q1"}],
                 "mark": {"type": "bar", "stroke": "#2b2b2b", "strokeWidth": 1.5},
                 "encoding": {"x": {"field": "grp", "type": "nominal", "scale": {"domain": ["Light", "Dark", "Control"], "paddingInner": 0.34, "paddingOuter": 0.36}, "axis": {"title": null}},
                   "y": {"field": "q1", "type": "quantitative", "scale": {"domain": [-5, 100], "nice": false, "zero": false}, "axis": {"values": [0, 20, 40, 60, 80, 100], "title": "Activity index"}},
                   "y2": {"field": "q3"},
                   "fill": {"field": "grp", "type": "nominal", "scale": {"domain": ["Light", "Dark", "Control"], "range": ["#FFFB9E", "#5B5B5B", "#5B5B5B"]}, "legend": null}}},
                {"data": {"name": "points"},
                 "transform": [{"filter": "datum.sp === 'Lasionycteris noctivagans'"}, {"calculate": "round(datum.v / 3)", "as": "bin"},
                   {"window": [{"op": "row_number", "as": "rk"}, {"op": "count", "as": "cnt"}], "groupby": ["grp", "bin"], "sort": [{"field": "v"}], "frame": [null, null]},
                   {"calculate": "23.5 + (datum.rk - (datum.cnt + 1) / 2) * min(10, 42 / max(datum.cnt - 1, 1))", "as": "off"}],
                 "mark": {"type": "circle", "size": 40, "opacity": 1, "color": "#000000"},
                 "encoding": {"x": {"field": "grp", "type": "nominal", "scale": {"domain": ["Light", "Dark", "Control"], "paddingInner": 0.34, "paddingOuter": 0.36}, "axis": {"title": null}},
                   "xOffset": {"field": "off", "type": "quantitative", "scale": null},
                   "y": {"field": "v", "type": "quantitative", "scale": {"domain": [-5, 100], "nice": false, "zero": false}, "axis": {"values": [0, 20, 40, 60, 80, 100], "title": "Activity index"}}}},
                {"data": {"name": "boxes"}, "transform": [{"filter": "datum.sp === 'Lasionycteris noctivagans'"}],
                 "mark": {"type": "text", "baseline": "alphabetic", "dy": -6, "fontSize": 16, "font": "Liberation Sans", "color": "#000000"},
                 "encoding": {"x": {"field": "grp", "type": "nominal", "scale": {"domain": ["Light", "Dark", "Control"], "paddingInner": 0.34, "paddingOuter": 0.36}, "axis": {"title": null}},
                   "y": {"field": "max", "type": "quantitative", "scale": {"domain": [-5, 100], "nice": false, "zero": false}, "axis": {"values": [0, 20, 40, 60, 80, 100], "title": "Activity index"}},
                   "text": {"field": "letter"}}},
                {"data": {"name": "boxes"}, "transform": [{"filter": "datum.sp === 'Lasionycteris noctivagans' && datum.grp === 'Light'"}],
                 "mark": {"type": "text", "align": "left", "baseline": "middle", "dx": -42, "dy": 15, "fontSize": 16, "fontStyle": "italic", "font": "Liberation Sans", "color": "#000000"},
                 "encoding": {"x": {"field": "grp", "type": "nominal", "scale": {"domain": ["Light", "Dark", "Control"], "paddingInner": 0.34, "paddingOuter": 0.36}, "axis": {"title": null}},
                   "y": {"datum": 100, "type": "quantitative", "scale": {"domain": [-5, 100], "nice": false, "zero": false}, "axis": {"values": [0, 20, 40, 60, 80, 100], "title": "Activity index"}},
                   "text": {"field": "sp"}}}
              ]
            }
          ]
        }
      ]
    },
    {
      "width": 244, "height": 243,
      "layer": [
        {"data": {"name": "boxes"}, "transform": [{"filter": "datum.sp === 'Myotis lucifugus'"}],
         "mark": {"type": "rule", "color": "#2b2b2b", "strokeWidth": 1.5},
         "encoding": {"x": {"field": "grp", "type": "nominal", "scale": {"domain": ["Light", "Dark", "Control"], "paddingInner": 0.34, "paddingOuter": 0.36}, "axis": {"title": null}},
           "y": {"field": "min", "type": "quantitative", "scale": {"domain": [-5, 30], "nice": false, "zero": false}, "axis": {"values": [0, 10, 20, 30], "title": "Activity index"}},
           "y2": {"field": "max"}}},
        {"data": {"name": "boxes"}, "transform": [{"filter": "datum.sp === 'Myotis lucifugus'"}],
         "mark": {"type": "tick", "orient": "horizontal", "size": 27, "thickness": 1.5, "color": "#2b2b2b"},
         "encoding": {"x": {"field": "grp", "type": "nominal", "scale": {"domain": ["Light", "Dark", "Control"], "paddingInner": 0.34, "paddingOuter": 0.36}, "axis": {"title": null}},
           "y": {"field": "max", "type": "quantitative", "scale": {"domain": [-5, 30], "nice": false, "zero": false}, "axis": {"values": [0, 10, 20, 30], "title": "Activity index"}}}},
        {"data": {"name": "boxes"}, "transform": [{"filter": "datum.sp === 'Myotis lucifugus' && datum.q3 > datum.q1"}],
         "mark": {"type": "bar", "stroke": "#2b2b2b", "strokeWidth": 1.5},
         "encoding": {"x": {"field": "grp", "type": "nominal", "scale": {"domain": ["Light", "Dark", "Control"], "paddingInner": 0.34, "paddingOuter": 0.36}, "axis": {"title": null}},
           "y": {"field": "q1", "type": "quantitative", "scale": {"domain": [-5, 30], "nice": false, "zero": false}, "axis": {"values": [0, 10, 20, 30], "title": "Activity index"}},
           "y2": {"field": "q3"},
           "fill": {"field": "grp", "type": "nominal", "scale": {"domain": ["Light", "Dark", "Control"], "range": ["#FFFB9E", "#5B5B5B", "#5B5B5B"]}, "legend": null}}},
        {"data": {"name": "boxes"}, "transform": [{"filter": "datum.sp === 'Myotis lucifugus' && datum.q3 > datum.q1"}],
         "mark": {"type": "tick", "orient": "horizontal", "size": 48, "thickness": 1.5, "color": "#1e1e1e"},
         "encoding": {"x": {"field": "grp", "type": "nominal", "scale": {"domain": ["Light", "Dark", "Control"], "paddingInner": 0.34, "paddingOuter": 0.36}, "axis": {"title": null}},
           "y": {"field": "med", "type": "quantitative", "scale": {"domain": [-5, 30], "nice": false, "zero": false}, "axis": {"values": [0, 10, 20, 30], "title": "Activity index"}}}},
        {"data": {"name": "points"},
         "transform": [{"filter": "datum.sp === 'Myotis lucifugus'"}, {"calculate": "round(datum.v)", "as": "bin"},
           {"window": [{"op": "row_number", "as": "rk"}, {"op": "count", "as": "cnt"}], "groupby": ["grp", "bin"], "sort": [{"field": "v"}], "frame": [null, null]},
           {"calculate": "23.8 + (datum.rk - (datum.cnt + 1) / 2) * min(10, 44 / max(datum.cnt - 1, 1))", "as": "off"}],
         "mark": {"type": "circle", "size": 40, "opacity": 1, "color": "#000000"},
         "encoding": {"x": {"field": "grp", "type": "nominal", "scale": {"domain": ["Light", "Dark", "Control"], "paddingInner": 0.34, "paddingOuter": 0.36}, "axis": {"title": null}},
           "xOffset": {"field": "off", "type": "quantitative", "scale": null},
           "y": {"field": "v", "type": "quantitative", "scale": {"domain": [-5, 30], "nice": false, "zero": false}, "axis": {"values": [0, 10, 20, 30], "title": "Activity index"}}}},
        {"data": {"name": "boxes"}, "transform": [{"filter": "datum.sp === 'Myotis lucifugus' && datum.grp === 'Light'"}],
         "mark": {"type": "text", "align": "left", "baseline": "middle", "dx": -43, "dy": 16, "fontSize": 16, "fontStyle": "italic", "font": "Liberation Sans", "color": "#000000"},
         "encoding": {"x": {"field": "grp", "type": "nominal", "scale": {"domain": ["Light", "Dark", "Control"], "paddingInner": 0.34, "paddingOuter": 0.36}, "axis": {"title": null}},
           "y": {"datum": 30, "type": "quantitative", "scale": {"domain": [-5, 30], "nice": false, "zero": false}, "axis": {"values": [0, 10, 20, 30], "title": "Activity index"}},
           "text": {"field": "sp"}}}
      ]
    }
  ],
  "config": {
    "view": {"stroke": null},
    "font": "Liberation Sans",
    "axis": {"domainColor": "#222222", "domainWidth": 1.5, "tickColor": "#222222", "tickWidth": 1.5, "labelFont": "Liberation Sans", "labelFontSize": 16, "labelColor": "#000000", "titleFont": "Liberation Sans", "titleFontSize": 16, "titleFontWeight": "normal", "titleColor": "#000000", "grid": false},
    "axisX": {"ticks": false, "labelPadding": 12, "labelAngle": 0},
    "axisY": {"tickSize": 7, "labelPadding": 3, "titlePadding": 10}
  }
}
